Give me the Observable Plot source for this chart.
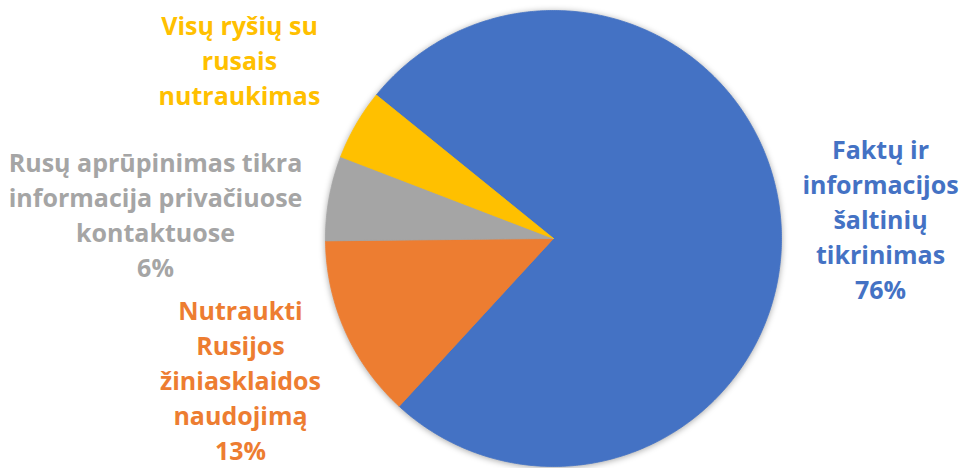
<!DOCTYPE html>
<html>
<head>
<meta charset="utf-8">
<script src="https://cdn.jsdelivr.net/npm/d3@7"></script>
<script src="https://cdn.jsdelivr.net/npm/@observablehq/plot@0.6"></script>
<style>
  html, body { margin: 0; padding: 0; background: #fff; }
  #chart { width: 970px; height: 468px; }
</style>
</head>
<body>
<div id="chart"></div>
<script>
// ---- data ----
const categories = [
  "Faktų ir\ninformacijos\nšaltinių\ntikrinimas",
  "Nutraukti\nRusijos\nžiniasklaidos\nnaudojimą",
  "Rusų aprūpinimas tikra\ninformacija privačiuose\nkontaktuose",
  "Visų ryšių su\nrusais\nnutraukimas"
];
const values = [76, 13, 6, 5];
const showPercent = [true, true, true, false];
const colors = ["#4472C4", "#ED7D31", "#A5A5A5", "#FFC000"];

// ---- layout ----
const W = 970, H = 468;
const cx = 553, cy = 238, R = 228;
const startDeg = 309;
const labelAnchors = [[880, 217], [240, 378], [155, 213], [239, 58]];

const pie = d3.pie().sort(null).value(d => d)
  .startAngle(startDeg * Math.PI / 180)
  .endAngle((startDeg + 360) * Math.PI / 180);
const arcs = pie(values);

// polygon points for each slice
const pts = [];
arcs.forEach((a, i) => {
  pts.push({i, x: cx, y: cy});
  const n = Math.max(4, Math.ceil((a.endAngle - a.startAngle) / (Math.PI / 360)));
  for (let k = 0; k <= n; k++) {
    const t = a.startAngle + (a.endAngle - a.startAngle) * k / n;
    pts.push({i, x: cx + R * Math.sin(t), y: cy - R * Math.cos(t)});
  }
  pts.push({i, x: cx, y: cy});
});

const labels = categories.map((c, i) => ({
  i,
  text: c + (showPercent[i] ? "\n" + values[i] + "%" : ""),
  x: labelAnchors[i][0],
  y: labelAnchors[i][1]
}));

const chart = Plot.plot({
  width: W, height: H,
  margin: 0,
  x: {domain: [0, W], range: [0, W], axis: null},
  y: {domain: [0, H], range: [0, H], axis: null},
  color: {type: "ordinal", domain: d3.range(values.length), range: colors},
  style: {background: "#fff", overflow: "visible"},
  marks: [
    Plot.line(pts, {x: "x", y: "y", z: "i", fill: "i", stroke: "i", strokeWidth: 0.8, curve: "linear"}),
    Plot.text(labels, {
      x: "x", y: "y", text: "text", fill: "i",
      fontSize: 25, fontWeight: "bold", fontFamily: "Open Sans",
      lineHeight: 1.4, textAnchor: "middle", lineAnchor: "middle"
    })
  ]
});

const lineG = chart.querySelector('g[aria-label="line"]');
if (lineG) lineG.style.filter = "drop-shadow(0px 1px 3px rgba(0,0,0,0.35))";

document.getElementById("chart").appendChild(chart);
</script>
</body>
</html>
